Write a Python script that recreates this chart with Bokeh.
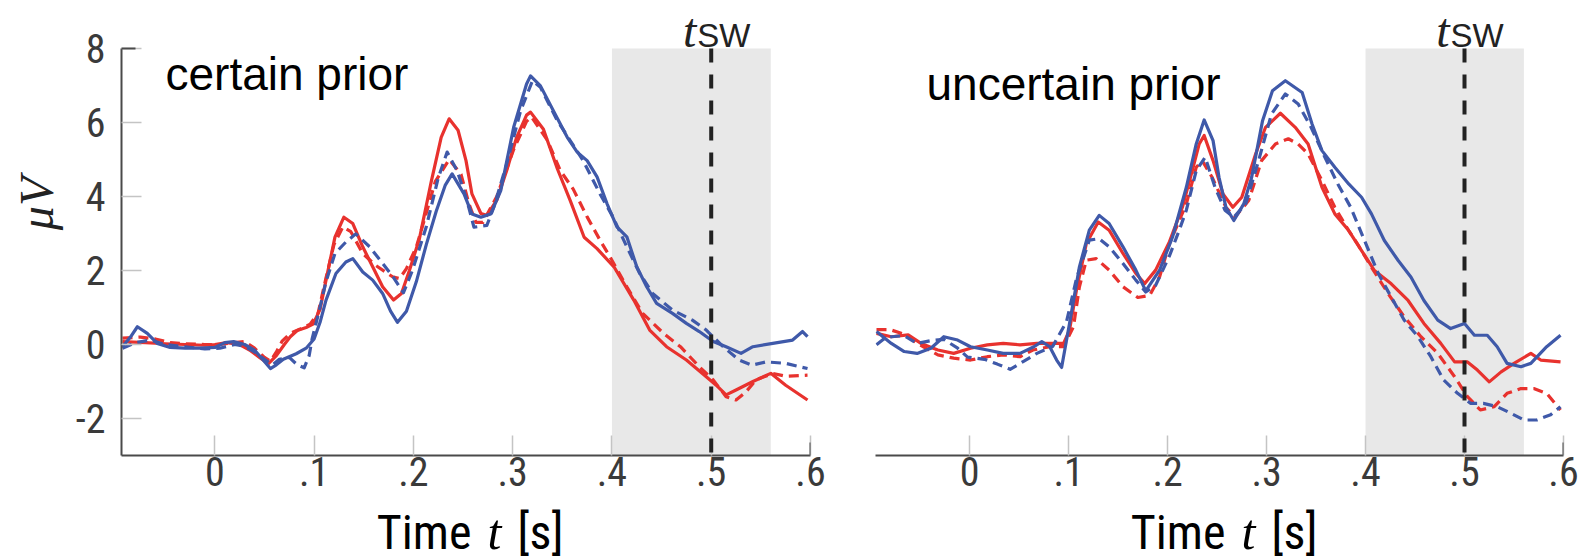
from math import pi
from bokeh.plotting import figure
from bokeh.models import FixedTicker, BoxAnnotation, Label, Arrow, Range1d
from bokeh.layouts import row, column
from bokeh.embed import file_html
from bokeh.resources import INLINE

# ---------------- data ----------------
X_TICKS = [0, 0.1, 0.2, 0.3, 0.4, 0.5, 0.6]
X_TICK_LABELS = ["0", ".1", ".2", ".3", ".4", ".5", ".6"]
Y_TICKS = [-2, 0, 2, 4, 6, 8]
Y_TICK_LABELS = ["-2", "0", "2", "4", "6", "8"]
PANEL_TITLES = ["certain prior", "uncertain prior"]
SHADE_START, SHADE_END = 0.4, 0.56
T_SW = 0.5
Y_MIN, Y_MAX = -3, 8
X_MAX = 0.6

# left panel (certain prior)
L_RED_SOLID_T = [-0.093, -0.07, -0.05, -0.03, -0.01, 0.0, 0.012, 0.025, 0.035, 0.045, 0.054, 0.062, 0.07, 0.076, 0.083, 0.092, 0.099, 0.106, 0.112, 0.121, 0.13, 0.139, 0.149, 0.159, 0.169, 0.18, 0.188, 0.196, 0.206, 0.218, 0.228, 0.236, 0.245, 0.253, 0.259, 0.268, 0.274, 0.284, 0.294, 0.304, 0.314, 0.318, 0.331, 0.345, 0.358, 0.372, 0.385, 0.402, 0.422, 0.438, 0.455, 0.475, 0.495, 0.505, 0.515, 0.525, 0.542, 0.56, 0.575, 0.597]
L_RED_SOLID_V = [0.08, 0.05, 0.02, 0.0, -0.02, 0.0, 0.05, 0.0, -0.15, -0.35, -0.52, -0.3, 0.0, 0.21, 0.38, 0.46, 0.55, 0.95, 1.74, 2.9, 3.44, 3.27, 2.64, 2.1, 1.56, 1.2, 1.38, 2.0, 2.85, 4.4, 5.6, 6.1, 5.79, 4.97, 4.07, 3.54, 3.49, 3.9, 4.7, 5.6, 6.2, 6.28, 5.82, 4.75, 3.89, 2.9, 2.59, 2.1, 1.2, 0.39, -0.06, -0.42, -0.87, -1.1, -1.36, -1.23, -1.0, -0.78, -1.1, -1.5]

L_RED_DASH_T = [-0.093, -0.075, -0.06, -0.045, -0.03, -0.01, 0.005, 0.02, 0.03, 0.04, 0.05, 0.056, 0.062, 0.068, 0.076, 0.086, 0.096, 0.104, 0.112, 0.12, 0.129, 0.137, 0.149, 0.162, 0.179, 0.186, 0.193, 0.203, 0.213, 0.222, 0.236, 0.248, 0.256, 0.263, 0.27, 0.284, 0.301, 0.314, 0.319, 0.335, 0.348, 0.361, 0.375, 0.388, 0.398, 0.415, 0.431, 0.452, 0.469, 0.488, 0.502, 0.515, 0.525, 0.535, 0.545, 0.562, 0.575, 0.597]
L_RED_DASH_V = [0.17, 0.2, 0.15, 0.05, 0.02, 0.0, 0.0, 0.05, 0.08, -0.1, -0.35, -0.45, -0.2, 0.1, 0.3, 0.42, 0.55, 0.85, 1.8, 2.7, 3.18, 3.05, 2.46, 2.14, 1.83, 1.78, 2.05, 2.64, 3.55, 4.4, 5.0, 4.6, 3.8, 3.3, 3.3, 4.0, 5.27, 6.03, 6.15, 5.52, 4.7, 4.2, 3.45, 2.82, 2.37, 1.56, 0.84, 0.3, -0.06, -0.6, -0.96, -1.41, -1.5, -1.28, -0.96, -0.78, -0.86, -0.83]

L_BLUE_SOLID_T = [-0.093, -0.085, -0.078, -0.068, -0.058, -0.045, -0.03, -0.015, 0.0, 0.01, 0.019, 0.03, 0.04, 0.048, 0.056, 0.062, 0.069, 0.082, 0.092, 0.1, 0.106, 0.112, 0.122, 0.132, 0.139, 0.149, 0.159, 0.169, 0.177, 0.184, 0.193, 0.203, 0.213, 0.223, 0.232, 0.239, 0.251, 0.259, 0.268, 0.278, 0.288, 0.301, 0.314, 0.318, 0.328, 0.341, 0.355, 0.365, 0.375, 0.385, 0.395, 0.405, 0.415, 0.425, 0.435, 0.445, 0.461, 0.475, 0.488, 0.502, 0.515, 0.53, 0.542, 0.562, 0.582, 0.592, 0.597]
L_BLUE_SOLID_V = [-0.06, 0.2, 0.48, 0.3, 0.03, -0.08, -0.1, -0.1, -0.08, 0.05, 0.08, 0.0, -0.15, -0.4, -0.65, -0.55, -0.4, -0.25, -0.1, 0.15, 0.6, 1.2, 1.92, 2.23, 2.32, 1.96, 1.74, 1.38, 0.9, 0.6, 0.9, 1.7, 2.7, 3.6, 4.3, 4.61, 4.07, 3.53, 3.44, 3.53, 4.16, 5.87, 7.04, 7.26, 6.99, 6.32, 5.6, 5.2, 4.97, 4.53, 3.81, 3.18, 2.91, 2.1, 1.56, 1.11, 0.84, 0.57, 0.35, 0.08, -0.06, -0.24, -0.06, 0.03, 0.12, 0.35, 0.21]

L_BLUE_DASH_T = [-0.093, -0.08, -0.065, -0.05, -0.03, -0.01, 0.005, 0.02, 0.03, 0.04, 0.05, 0.058, 0.065, 0.075, 0.083, 0.09, 0.095, 0.098, 0.105, 0.112, 0.121, 0.132, 0.142, 0.156, 0.169, 0.179, 0.19, 0.199, 0.213, 0.225, 0.234, 0.244, 0.254, 0.261, 0.274, 0.281, 0.294, 0.308, 0.32, 0.328, 0.345, 0.371, 0.388, 0.401, 0.415, 0.428, 0.441, 0.461, 0.481, 0.495, 0.512, 0.528, 0.541, 0.555, 0.575, 0.597]
L_BLUE_DASH_V = [-0.1, 0.05, 0.12, 0.0, -0.06, -0.12, -0.1, 0.0, -0.05, -0.2, -0.4, -0.55, -0.4, -0.35, -0.55, -0.63, -0.3, 0.15, 0.9, 1.7, 2.46, 2.77, 2.99, 2.64, 2.19, 1.85, 1.4, 2.0, 3.18, 4.5, 5.2, 4.7, 3.89, 3.17, 3.22, 3.71, 4.88, 6.32, 7.13, 6.95, 6.05, 4.97, 4.07, 3.45, 2.64, 1.92, 1.38, 0.93, 0.66, 0.39, -0.06, -0.42, -0.56, -0.47, -0.51, -0.65]

# right panel (uncertain prior)
R_RED_SOLID_T = [-0.094, -0.079, -0.062, -0.049, -0.032, -0.016, 0.001, 0.018, 0.034, 0.051, 0.068, 0.085, 0.095, 0.101, 0.108, 0.118, 0.13, 0.141, 0.155, 0.168, 0.177, 0.188, 0.202, 0.215, 0.225, 0.232, 0.237, 0.246, 0.256, 0.266, 0.275, 0.289, 0.299, 0.314, 0.329, 0.342, 0.356, 0.369, 0.383, 0.396, 0.409, 0.426, 0.443, 0.459, 0.476, 0.49, 0.503, 0.513, 0.525, 0.537, 0.55, 0.567, 0.577, 0.597]
R_RED_SOLID_V = [0.3, 0.21, 0.26, 0.03, -0.15, -0.24, -0.1, -0.01, 0.03, -0.01, 0.03, 0.03, 0.03, 0.39, 1.47, 2.73, 3.31, 3.09, 2.46, 1.92, 1.65, 2.01, 2.78, 3.71, 4.7, 5.42, 5.65, 4.97, 4.07, 3.71, 3.98, 5.15, 5.87, 6.25, 5.87, 5.42, 4.25, 3.53, 3.08, 2.54, 2.0, 1.64, 1.19, 0.57, 0.03, -0.47, -0.47, -0.69, -1.01, -0.74, -0.51, -0.24, -0.42, -0.47]

R_RED_DASH_T = [-0.094, -0.08, -0.066, -0.053, -0.032, -0.016, 0.001, 0.018, 0.034, 0.051, 0.064, 0.081, 0.095, 0.105, 0.111, 0.118, 0.128, 0.141, 0.155, 0.17, 0.182, 0.192, 0.202, 0.219, 0.229, 0.235, 0.245, 0.259, 0.268, 0.282, 0.295, 0.309, 0.322, 0.332, 0.342, 0.356, 0.369, 0.383, 0.393, 0.406, 0.423, 0.439, 0.456, 0.473, 0.49, 0.503, 0.516, 0.53, 0.543, 0.557, 0.57, 0.583, 0.597]
R_RED_DASH_V = [0.4, 0.4, 0.28, 0.03, -0.28, -0.37, -0.42, -0.33, -0.28, -0.33, -0.15, -0.06, -0.06, 0.48, 1.56, 2.28, 2.32, 2.01, 1.56, 1.27, 1.33, 1.83, 2.73, 3.8, 4.79, 4.97, 4.52, 3.71, 3.44, 3.89, 4.97, 5.42, 5.56, 5.42, 5.15, 4.43, 3.71, 3.08, 2.67, 2.09, 1.37, 0.75, 0.21, -0.24, -0.87, -1.41, -1.77, -1.68, -1.32, -1.19, -1.19, -1.32, -1.77]

R_BLUE_SOLID_T = [-0.094, -0.079, -0.066, -0.053, -0.039, -0.026, -0.012, 0.001, 0.018, 0.034, 0.051, 0.065, 0.073, 0.081, 0.088, 0.093, 0.101, 0.111, 0.121, 0.131, 0.141, 0.155, 0.168, 0.178, 0.192, 0.205, 0.219, 0.229, 0.237, 0.246, 0.252, 0.259, 0.267, 0.277, 0.285, 0.296, 0.306, 0.319, 0.336, 0.346, 0.356, 0.369, 0.383, 0.396, 0.406, 0.419, 0.433, 0.446, 0.459, 0.473, 0.486, 0.5, 0.51, 0.523, 0.533, 0.543, 0.557, 0.567, 0.583, 0.597]
R_BLUE_SOLID_V = [0.35, 0.03, -0.19, -0.24, -0.1, 0.21, 0.12, -0.06, -0.15, -0.24, -0.24, -0.06, 0.08, -0.06, -0.42, -0.62, 0.57, 2.1, 3.09, 3.49, 3.27, 2.64, 2.01, 1.45, 2.01, 2.9, 4.25, 5.42, 6.07, 5.51, 4.52, 3.71, 3.35, 3.8, 4.52, 6.05, 6.86, 7.13, 6.81, 5.96, 5.24, 4.79, 4.34, 3.98, 3.53, 2.81, 2.27, 1.82, 1.19, 0.66, 0.43, 0.57, 0.25, 0.25, -0.06, -0.51, -0.6, -0.51, -0.06, 0.25]

R_BLUE_DASH_T = [-0.094, -0.087, -0.079, -0.066, -0.053, -0.04, -0.026, -0.012, -0.002, 0.015, 0.028, 0.041, 0.055, 0.068, 0.084, 0.098, 0.108, 0.121, 0.131, 0.141, 0.155, 0.168, 0.178, 0.188, 0.202, 0.212, 0.219, 0.229, 0.238, 0.248, 0.258, 0.267, 0.279, 0.292, 0.305, 0.319, 0.332, 0.345, 0.359, 0.372, 0.385, 0.399, 0.413, 0.426, 0.439, 0.453, 0.466, 0.479, 0.493, 0.506, 0.519, 0.533, 0.547, 0.56, 0.573, 0.587, 0.597]
R_BLUE_DASH_V = [-0.01, 0.14, 0.21, 0.24, 0.03, 0.1, 0.14, -0.1, -0.34, -0.4, -0.53, -0.67, -0.45, -0.24, -0.05, 0.62, 1.78, 2.82, 2.86, 2.64, 2.19, 1.74, 1.42, 1.6, 2.4, 3.1, 3.63, 4.7, 5.06, 4.25, 3.63, 3.44, 3.8, 4.97, 6.23, 6.77, 6.5, 5.87, 5.06, 4.34, 3.71, 2.81, 1.91, 1.28, 0.66, 0.21, -0.33, -0.96, -1.32, -1.59, -1.59, -1.68, -1.86, -2.04, -2.04, -1.9, -1.68]

# ---------------- style ----------------
RED = "#e8322e"
BLUE = "#3f59a9"
SHADE_COLOR = "#e8e8e8"
AXIS_COLOR = "#4a4a4a"
TICK_COLOR = "#c4c4c4"
LABEL_COLOR = "#3a3a3a"
NARROW = "'Liberation Sans Narrow', 'Roboto Condensed', 'Liberation Sans'"
SANS = "'Liberation Sans', Arial"
SERIF = "'Liberation Serif', 'DejaVu Serif'"
DATA_H = 407          # pixel height of the -3..8 data band
TOP_H = 48            # space above y=8 inside the frame (for t_SW)
FRAME_H = DATA_H + TOP_H
BOTTOM_BORDER = 48
BOTTOM_H = 57
TOTAL_H = FRAME_H + BOTTOM_BORDER + BOTTOM_H
PX_PER_UNIT = DATA_H / (Y_MAX - Y_MIN)
Y_TOP = Y_MAX + TOP_H / PX_PER_UNIT
BASE_FIX = 0.33  # alphabetic-baseline correction, in em


def bare(x_range, frame_w, frame_h, y_max, b_left, b_right):
    s = figure(x_range=x_range, y_range=Range1d(0, y_max), frame_width=frame_w,
               frame_height=frame_h, output_backend="svg", toolbar_location=None,
               x_axis_location=None, y_axis_location=None,
               min_border_left=b_left, min_border_right=b_right,
               min_border_top=0, min_border_bottom=0)
    s.title.visible = False
    s.outline_line_color = None
    s.xgrid.visible = False
    s.ygrid.visible = False
    return s


def style_axis(ax, ticks, labels, standoff):
    ax.ticker = FixedTicker(ticks=ticks)
    ax.major_label_overrides = {t: l for t, l in zip(ticks, labels)}
    ax.minor_tick_line_color = None
    ax.major_tick_in = 20
    ax.major_tick_out = 0
    ax.major_tick_line_color = TICK_COLOR
    ax.major_tick_line_width = 1.5
    ax.axis_line_color = AXIS_COLOR
    ax.axis_line_width = 2
    ax.major_label_text_font = NARROW
    ax.major_label_text_font_size = "40px"
    ax.major_label_text_color = LABEL_COLOR
    ax.major_label_standoff = standoff


def make_panel(x_lo, frame_w, series, title, title_dx, title_dy, show_y,
               border_left, border_right):
    xr = Range1d(x_lo, X_MAX)
    p = figure(x_range=xr, y_range=Range1d(Y_MIN, Y_TOP), frame_width=frame_w,
               frame_height=FRAME_H, output_backend="svg",
               toolbar_location=None, min_border_left=border_left,
               min_border_right=border_right, min_border_top=0,
               min_border_bottom=BOTTOM_BORDER)
    p.title.visible = False
    p.outline_line_color = None
    p.xgrid.visible = False
    p.ygrid.visible = False

    def dx(px):
        return px * (X_MAX - x_lo) / frame_w

    def dy(px):
        return px / PX_PER_UNIT

    style_axis(p.xaxis[0], X_TICKS, X_TICK_LABELS, 1)

    ya = p.yaxis[0]
    if show_y:
        style_axis(ya, Y_TICKS, Y_TICK_LABELS, 16)
        ya.bounds = (Y_MIN, Y_MAX)
        ya.major_label_orientation = "horizontal"
        p.add_layout(Arrow(end=None, x_start=x_lo - dx(6), x_end=x_lo + dx(14),
                           y_start=Y_MAX, y_end=Y_MAX,
                           line_color=AXIS_COLOR, line_width=2))
    else:
        ya.visible = False

    p.add_layout(Arrow(end=None, x_start=X_MAX, x_end=X_MAX,
                       y_start=Y_MIN - dy(14), y_end=Y_MIN + dy(13),
                       line_color=AXIS_COLOR, line_width=2))

    p.add_layout(BoxAnnotation(left=SHADE_START, right=SHADE_END, top=Y_MAX, bottom=Y_MIN,
                               fill_color=SHADE_COLOR, fill_alpha=1.0, line_color=None,
                               level="underlay"))

    for t, v, color, dash in series:
        p.line(t, v, line_color=color, line_width=3.2, line_dash=dash,
               line_join="round", line_cap="butt")

    # switch time marker (top of the shaded window down to the x axis)
    p.segment(x0=[T_SW], y0=[Y_MAX], x1=[T_SW], y1=[Y_MIN], line_color="#222222",
              line_width=4, line_dash="14 12", level="overlay")

    p.add_layout(Label(x=x_lo + dx(title_dx), y=Y_MAX - dy(title_dy - BASE_FIX * 46),
                       text=title, text_align="left", text_baseline="alphabetic",
                       text_font=SANS, text_font_size="46px", text_color="black"))

    # t_SW label above the shaded window
    p.add_layout(Label(x=T_SW - dx(15), y=Y_MAX + dy(2 + BASE_FIX * 48), text="t",
                       text_align="right", text_baseline="alphabetic",
                       text_font=SERIF, text_font_style="italic",
                       text_font_size="48px", text_color="#222222"))
    p.add_layout(Label(x=T_SW - dx(14), y=Y_MAX + dy(2.5 + BASE_FIX * 33), text="SW",
                       text_align="left", text_baseline="alphabetic",
                       text_font=SANS, text_font_size="33px", text_color="#222222"))

    # strip below: Time t [s]
    bot = bare(xr, frame_w, BOTTOM_H, BOTTOM_H, border_left, border_right)
    by = 12
    bot.add_layout(Label(x=x_lo + dx(350), y=by + BASE_FIX * 48, text="Time",
                         text_align="right", text_baseline="alphabetic",
                         text_font=NARROW, text_font_size="48px", text_color="black"))
    bot.add_layout(Label(x=x_lo + dx(373), y=by + BASE_FIX * 50, text="t",
                         text_align="center", text_baseline="alphabetic",
                         text_font=SERIF, text_font_style="italic",
                         text_font_size="50px", text_color="black"))
    bot.add_layout(Label(x=x_lo + dx(396), y=by + BASE_FIX * 48, text="[s]",
                         text_align="left", text_baseline="alphabetic",
                         text_font=NARROW, text_font_size="48px", text_color="black"))
    return column(p, bot)


left_series = [
    (L_RED_SOLID_T, L_RED_SOLID_V, RED, "solid"),
    (L_RED_DASH_T, L_RED_DASH_V, RED, "10 6"),
    (L_BLUE_DASH_T, L_BLUE_DASH_V, BLUE, "10 6"),
    (L_BLUE_SOLID_T, L_BLUE_SOLID_V, BLUE, "solid"),
]
right_series = [
    (R_RED_SOLID_T, R_RED_SOLID_V, RED, "solid"),
    (R_RED_DASH_T, R_RED_DASH_V, RED, "10 6"),
    (R_BLUE_DASH_T, R_BLUE_DASH_V, BLUE, "10 6"),
    (R_BLUE_SOLID_T, R_BLUE_SOLID_V, BLUE, "solid"),
]

# y-axis label strip
YLAB_W = 66
ylab = bare(Range1d(0, YLAB_W), YLAB_W, TOTAL_H, TOTAL_H, 0, 0)
ylab.add_layout(Label(x=36, y=TOTAL_H - 203, text="\u03bcV", angle=pi / 2,
                      text_align="center", text_baseline="middle",
                      text_font=SERIF, text_font_style="italic",
                      text_font_size="48px", text_color="#222222"))

colA = make_panel(-0.094, 689, left_series, PANEL_TITLES[0], 44, 41, True, 121 - YLAB_W, 20)
colB = make_panel(-0.095, 688, right_series, PANEL_TITLES[1], 51, 50.5, False, 45, 24)

layout = row(ylab, colA, colB)
open("out.html", "w").write(file_html(layout, INLINE))
